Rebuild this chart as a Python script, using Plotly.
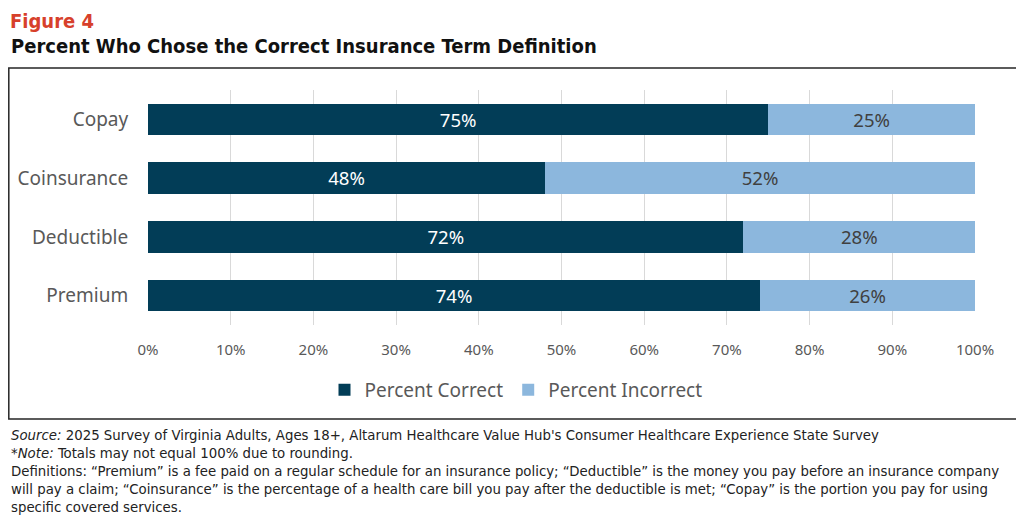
import plotly.graph_objects as go

# --- data ---
terms = ["Copay", "Coinsurance", "Deductible", "Premium"]
pct_correct = [75, 48, 72, 74]
pct_incorrect = [25, 52, 28, 26]
x_ticks = [0, 10, 20, 30, 40, 50, 60, 70, 80, 90, 100]

W, H = 1024, 525
OFF = 8  # page body margin shifts the figure by this much
DARK = "#023d57"
LIGHT = "#8cb7dd"
COND = "Liberation Sans Narrow, DejaVu Sans Condensed, sans-serif"
BODY = "Noto Sans, Liberation Sans, sans-serif"


def px_x(v):
    return max(v - OFF, 0) / W


def px_y(v):
    return 1 - (v - OFF) / H


fig = go.Figure()
fig.add_trace(go.Bar(
    y=terms, x=pct_correct, orientation="h", name="Percent Correct",
    marker=dict(color=DARK, line=dict(width=0)),
    text=[f"{v}%" for v in pct_correct], textposition="inside",
    insidetextanchor="middle", textfont=dict(color="white", size=19.5, family=BODY),
    hoverinfo="skip",
))
fig.add_trace(go.Bar(
    y=terms, x=pct_incorrect, orientation="h", name="Percent Incorrect",
    marker=dict(color=LIGHT, line=dict(width=0)),
    text=[f"{v}%" for v in pct_incorrect], textposition="inside",
    insidetextanchor="middle", textfont=dict(color="#404040", size=19.5, family=BODY),
    hoverinfo="skip",
))

fig.update_layout(
    template="none",
    barmode="stack",
    bargap=0.46,
    width=W, height=H, autosize=False,
    margin=dict(l=0, r=0, t=0, b=0, pad=0),
    paper_bgcolor="white", plot_bgcolor="white",
    font=dict(family=BODY, color="#595959"),
    uniformtext=dict(mode="show", minsize=10),
    showlegend=True,
    legend=dict(
        orientation="h", x=px_x(516), xanchor="center", y=px_y(390), yanchor="middle",
        font=dict(size=19, color="#595959", family=BODY),
        traceorder="normal", bgcolor="rgba(0,0,0,0)",
    ),
    xaxis=dict(
        domain=[px_x(148), px_x(975)], range=[0, 100], automargin=False,
        tickvals=x_ticks, ticktext=[f"{v}%" for v in x_ticks],
        showgrid=True, gridcolor="#d9d9d9", gridwidth=1,
        zeroline=False, showline=False,
        ticks="outside", ticklen=11, tickcolor="rgba(0,0,0,0)",
        tickfont=dict(size=15, color="#595959"),
        fixedrange=True,
    ),
    yaxis=dict(
        domain=[px_y(325), px_y(90)], automargin=False,
        categoryorder="array", categoryarray=terms, autorange="reversed",
        showgrid=False, zeroline=False, showline=False,
        ticks="outside", ticklen=15, tickcolor="rgba(0,0,0,0)",
        tickfont=dict(size=19, color="#595959"),
        fixedrange=True,
    ),
)

# frame around the chart (left edge sits as far left as the page allows)
fig.add_shape(type="rect", xref="paper", yref="paper",
              x0=0.8 / W, x1=px_x(1017), y0=px_y(419), y1=px_y(68),
              line=dict(color="#262626", width=1.5), fillcolor="rgba(0,0,0,0)")

# titles
fig.add_annotation(text="<b>Figure 4</b>", xref="paper", yref="paper",
                   x=px_x(9), y=1, xanchor="left", yanchor="top", borderpad=0,
                   showarrow=False, font=dict(family=COND, size=20, color="#d7402b"))
fig.add_annotation(text="<b>Percent Who Chose the Correct Insurance Term Definition</b>",
                   xref="paper", yref="paper", x=px_x(9), y=px_y(46),
                   xanchor="left", yanchor="middle", showarrow=False,
                   font=dict(family=COND, size=20, color="#111111"))

# footnotes
notes = [
    "<i>Source:</i> 2025 Survey of Virginia Adults, Ages 18+, Altarum Healthcare Value Hub's Consumer Healthcare Experience State Survey",
    "*<i>Note:</i> Totals may not equal 100% due to rounding.",
    "Definitions: \u201cPremium\u201d is a fee paid on a regular schedule for an insurance policy; \u201cDeductible\u201d is the money you pay before an insurance company",
    "will pay a claim; \u201cCoinsurance\u201d is the percentage of a health care bill you pay after the deductible is met; \u201cCopay\u201d is the portion you pay for using",
    "specific covered services.",
]
for i, line in enumerate(notes):
    fig.add_annotation(text=line, xref="paper", yref="paper",
                       x=px_x(9), y=px_y(434 + i * 18), xanchor="left", yanchor="middle",
                       showarrow=False, font=dict(family=COND, size=14.8, color="#222222"))

fig.write_html("out.html")
